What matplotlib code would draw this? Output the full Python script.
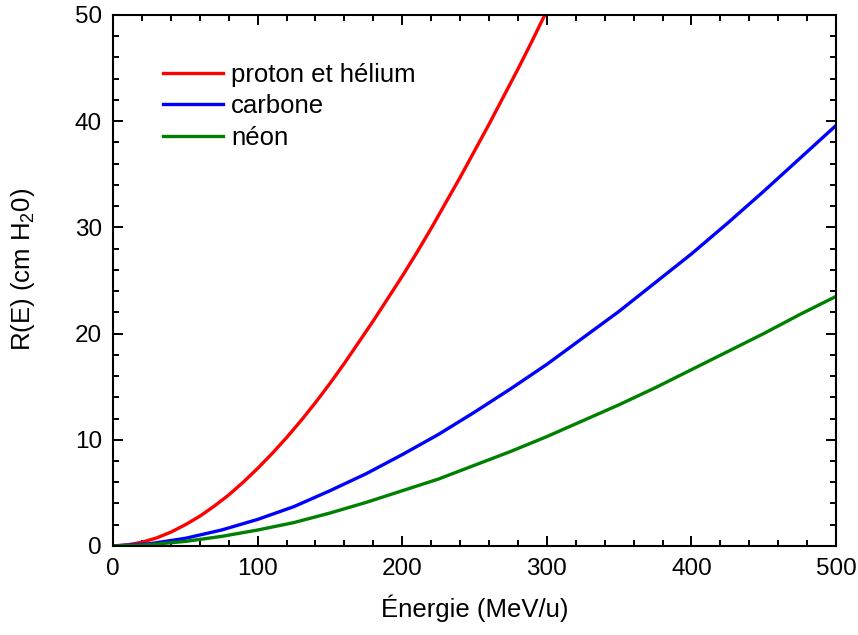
import numpy as np
import matplotlib
matplotlib.use('Agg')
import matplotlib.pyplot as plt
from matplotlib.ticker import MultipleLocator

plt.rcParams['font.family'] = ['Liberation Sans', 'DejaVu Sans']
plt.rcParams['mathtext.fontset'] = 'custom'
plt.rcParams['mathtext.rm'] = 'Liberation Sans'

# portée dans l'eau (cm) en fonction de l'énergie par nucléon (MeV/u)
e_proton = [0, 10, 20, 30, 40, 50, 60, 70, 80, 90, 100, 110, 120, 130, 140, 150,
            160, 170, 180, 190, 200, 210, 220, 230, 240, 250, 260, 270, 280, 290, 300]
r_proton = [0, 0.1, 0.35, 0.75, 1.3, 2.0, 2.8, 3.75, 4.8, 6.0, 7.3, 8.7, 10.2, 11.8, 13.5, 15.3,
            17.2, 19.2, 21.2, 23.3, 25.4, 27.6, 29.9, 32.3, 34.7, 37.2, 39.7, 42.3, 44.9, 47.6, 50.4]

e_ion = [0, 25, 50, 75, 100, 125, 150, 175, 200, 225, 250, 275, 300, 325, 350, 375, 400, 425, 450, 475, 500]
r_carbone = [0, 0.2, 0.72, 1.5, 2.5, 3.7, 5.2, 6.8, 8.6, 10.5, 12.6, 14.8, 17.1, 19.6, 22.1, 24.8, 27.5, 30.4, 33.4, 36.5, 39.6]
r_neon = [0, 0.12, 0.43, 0.9, 1.5, 2.2, 3.1, 4.1, 5.2, 6.3, 7.6, 8.9, 10.3, 11.8, 13.3, 14.9, 16.6, 18.3, 20.0, 21.8, 23.5]

fig = plt.figure(figsize=(8.58, 6.35), dpi=100)
ax = fig.add_axes([0.1317, 0.1402, 0.8427, 0.8362])

ax.plot(e_proton, r_proton, color='#ff0000', lw=2.4, label='proton et hélium')
ax.plot(e_ion, r_carbone, color='#0000ff', lw=2.4, label='carbone')
ax.plot(e_ion, r_neon, color='#008000', lw=2.4, label='néon')

ax.set_xlim(0, 500)
ax.set_ylim(0, 50)
ax.xaxis.set_major_locator(MultipleLocator(100))
ax.xaxis.set_minor_locator(MultipleLocator(20))
ax.yaxis.set_major_locator(MultipleLocator(10))
ax.yaxis.set_minor_locator(MultipleLocator(2))

for sp in ax.spines.values():
    sp.set_linewidth(1.5)
ax.tick_params(which='both', direction='in', top=True, right=True, width=1.4)
ax.tick_params(which='major', length=7.5, labelsize=17.5)
ax.tick_params(axis='x', which='major', pad=9)
ax.tick_params(axis='y', which='major', pad=8)
ax.tick_params(which='minor', length=4.5)

ax.set_xlabel('Énergie (MeV/u)', fontsize=18.5, labelpad=10)
ax.set_ylabel('R(E) (cm H$_2$0)', fontsize=18.5)
ax.yaxis.set_label_coords(-0.105, 0.52)

ax.legend(loc='upper left', bbox_to_anchor=(0.069, 0.91), frameon=False,
          fontsize=18.5, borderaxespad=0, borderpad=0, handlelength=2.35,
          handletextpad=0.3, labelspacing=0.3)

fig.savefig('out.png', dpi=100)
